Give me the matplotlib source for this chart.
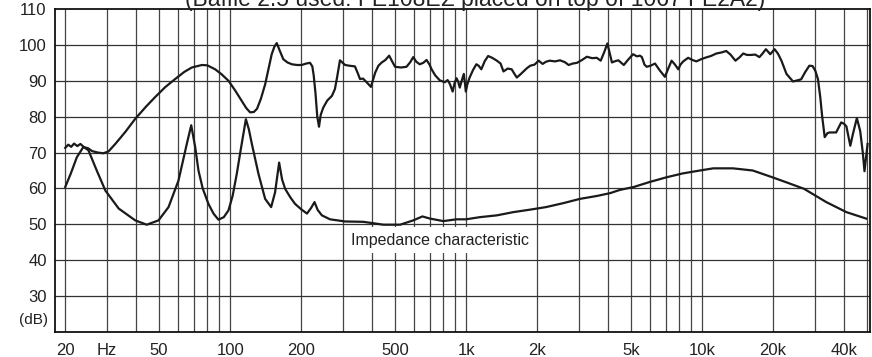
import numpy as np
import matplotlib
matplotlib.use('Agg')
import matplotlib.pyplot as plt

plt.rcParams['font.family'] = ['Liberation Sans', 'DejaVu Sans']

# Frequency response (upper curve)
resp_freq = [20, 20.6, 21.2, 21.8, 22.5, 23.2, 24, 25, 26, 27.5, 29, 30.5, 32.6, 36, 39.6,
             44, 48, 53, 58.5, 64, 68.8, 75.9, 80, 86.4, 92, 98.4, 105, 112, 117, 121.5,
             126, 130, 135, 140.7, 145, 150, 154, 157.6, 162, 168, 175, 182.6, 192, 201,
             210, 218, 223, 226, 230, 234, 238, 242, 248, 258, 270, 278, 284, 292, 307,
             320, 338, 348, 355, 366, 380, 395, 412, 425, 439, 455, 472, 485, 500, 530,
             559, 580, 597, 615, 636, 658, 680, 700, 714, 740, 774, 813, 835, 855, 877,
             895, 911, 925, 940, 958, 978, 990, 997, 1012, 1035, 1070, 1105, 1130, 1160,
             1200, 1240, 1290, 1350, 1400, 1440, 1500, 1560, 1600, 1640, 1700, 1750, 1810,
             1870, 1950, 2030, 2110, 2180, 2260, 2380, 2500, 2620, 2720, 2830, 2950, 3100,
             3250, 3420, 3580, 3720, 3850, 3970, 4050, 4150, 4300, 4420, 4550, 4660, 4850,
             5100, 5300, 5450, 5560, 5700, 5830, 6050, 6320, 6600, 6960, 7200, 7430, 7680,
             7930, 8100, 8320, 8730, 9100, 9460, 9900, 10400, 10900, 11500, 12100, 12660,
             13200, 13850, 14400, 14950, 15500, 16100, 16800, 17500, 18000, 18650, 19450,
             20300, 21000, 21700, 22800, 24300, 25300, 26300, 27400, 28500, 29400, 30200,
             31000, 31700, 32300, 33100, 34000, 34700, 37000, 38900, 40000, 40900, 42500,
             43600, 45300, 46800, 48000, 48800, 50300]
resp_db = [71.3, 72.2, 71.6, 72.5, 71.8, 72.4, 71.5, 71.2, 70.4, 70.0, 69.8, 70.3, 72.4, 75.8, 79.4,
           82.8, 85.4, 88.2, 90.5, 92.5, 93.7, 94.4, 94.3, 93.2, 91.8, 90.0, 87.3, 84.4, 82.4, 81.2,
           81.3, 82.2, 85.0, 89.0, 93.0, 97.4, 99.5, 100.5, 98.5, 96.0, 95.1, 94.6, 94.4, 94.4,
           94.8, 95.0, 94.0, 91.5, 86.5, 80.0, 77.2, 80.5, 82.5, 84.5, 85.8, 87.7, 91.0, 95.7, 94.4,
           94.2, 94.0, 92.0, 90.5, 90.6, 89.5, 88.3, 92.3, 94.2, 95.1, 95.8, 97.0, 95.5, 93.9, 93.7,
           93.9, 95.2, 96.6, 95.3, 94.6, 95.0, 95.8, 94.5, 93.2, 91.5, 90.1, 89.6, 90.2, 89.0, 87.0,
           89.5, 90.7, 89.8, 88.1, 90.0, 91.9, 89.0, 87.0, 89.0, 90.9, 93.0, 94.6, 94.2, 93.2,
           95.5, 96.9, 96.4, 95.6, 94.8, 92.6, 93.4, 93.2, 92.0, 90.9, 91.8, 92.6, 93.5,
           94.2, 94.5, 95.6, 94.7, 95.3, 95.6, 95.4, 95.7, 95.2, 94.4, 94.8, 95.0, 95.8,
           96.7, 96.3, 96.4, 95.6, 98.0, 100.4, 98.0, 95.1, 95.5, 95.7, 95.0, 94.4, 95.8,
           97.4, 96.8, 97.0, 96.6, 94.5, 93.9, 94.2, 94.8, 93.0, 91.1, 93.5, 95.6, 94.5,
           93.2, 94.5, 95.4, 96.4, 95.8, 95.4, 96.0, 96.5, 96.9, 97.6, 97.9, 98.3,
           97.3, 95.6, 96.5, 97.6, 97.2, 97.2, 97.3, 96.6, 97.5, 98.8, 97.4,
           98.8, 97.5, 95.6, 91.9, 89.8, 90.1, 90.4, 92.5, 94.2, 94.1, 92.8,
           90.4, 85.4, 80.0, 74.3, 75.4, 75.6, 75.6, 78.4, 78.0, 77.3, 71.9,
           75.2, 79.6, 76.0, 70.0, 64.8, 72.4]

# Impedance characteristic (lower curve)
imp_freq = [20, 21.1, 22.4, 23.9, 25.1, 27.2, 29.6, 33.7, 39.6, 44.3, 49.7, 54.8, 60.4, 65.5,
            68.4, 71.1, 73.4, 76.5, 80.9, 85, 89.2, 94, 98.4, 102.5, 106.7, 111, 116.6, 120,
            123.6, 131.8, 140.7, 149.2, 155, 161.3, 166, 171, 180, 188.4, 200, 211.6, 220,
            227.8, 235, 244.8, 265, 307, 367, 446, 525, 597, 653, 703, 801, 910, 1000, 1144,
            1350, 1585, 1870, 2180, 2580, 3040, 3580, 4080, 4490, 5130, 6000, 7060, 8300,
            9800, 11150, 13530, 16400, 19880, 23000, 27050, 33600, 40900, 49600]
imp_db = [60.4, 64.1, 68.7, 71.6, 70.6, 65.0, 59.4, 54.4, 51.1, 49.9, 51.1, 54.8, 62.2, 72.4,
          77.6, 71.5, 65.0, 60.0, 55.7, 53.0, 51.3, 52.0, 53.9, 58.0, 64.1, 71.0, 79.3, 76.5,
          72.4, 64.1, 57.1, 54.8, 58.9, 67.2, 62.5, 59.9, 57.5, 55.7, 54.2, 53.0, 54.5,
          56.2, 54.0, 52.5, 51.4, 50.8, 50.7, 49.9, 49.9, 51.1, 52.2, 51.6, 50.9, 51.4, 51.4, 52.0,
          52.5, 53.4, 54.1, 54.8, 55.9, 57.1, 57.9, 58.7, 59.6, 60.4, 61.8, 63.1, 64.2,
          65.0, 65.6, 65.6, 65.0, 63.1, 61.6, 59.9, 56.2, 53.4, 51.6]

grid_freqs = [20, 30, 40, 50, 60, 70, 80, 90, 100, 200, 300, 400, 500, 600, 700, 800, 900,
              1000, 2000, 3000, 4000, 5000, 6000, 7000, 8000, 9000, 10000, 20000, 30000,
              40000, 50000]
x_ticks = [20, 30, 50, 100, 200, 500, 1000, 2000, 5000, 10000, 20000, 40000]
x_labels = ['20', 'Hz', '50', '100', '200', '500', '1k', '2k', '5k', '10k', '20k', '40k']
y_ticks = [30, 40, 50, 60, 70, 80, 90, 100, 110]

fig = plt.figure(figsize=(8.72, 3.57), dpi=100)
ax = fig.add_axes([55 / 872, 1 - 332 / 357, 815 / 872, 323 / 357])

ax.set_xscale('log')
ax.set_xlim(18.1, 51500)
ax.set_ylim(20, 110)

# grid lines
for f in grid_freqs:
    ax.axvline(f, color='#444444', lw=0.9, zorder=1)
for y in y_ticks[:-1]:
    ax.axhline(y, color='#333333', lw=0.9, zorder=1)

ax.plot(resp_freq, resp_db, color='#1a1a1a', lw=1.6, zorder=3)
ax.plot(imp_freq, imp_db, color='#1a1a1a', lw=1.6, zorder=3)

ax.text(776, 45.6, 'Impedance characteristic', fontsize=11.5, color='#222222',
        ha='center', va='center', zorder=2,
        bbox=dict(facecolor='white', edgecolor='none', boxstyle='square,pad=0.35'))

ax.set_xticks(x_ticks)
ax.set_xticklabels(x_labels)
ax.xaxis.set_minor_locator(plt.NullLocator())
ax.set_yticks(y_ticks)
ax.tick_params(length=0, labelsize=12, colors='#222222')
ax.tick_params(axis='x', pad=8)
ax.tick_params(axis='y', pad=6)
ax.text(-0.008, 23.3, '(dB)', transform=ax.get_yaxis_transform(), fontsize=11,
        ha='right', va='center', color='#222222')

for s in ax.spines.values():
    s.set_color('#111111')
    s.set_linewidth(1.3)

# title is partly cut by the top edge, as in the source image
fig.text(475 / 872, 1 - 6 / 357, '(Baffle 2.5 used: FE108EΣ placed on top of 1067 FE2A2)',
         fontsize=16.5, ha='center', va='baseline', color='#222222')

fig.savefig('out.png', dpi=100, facecolor='white')
